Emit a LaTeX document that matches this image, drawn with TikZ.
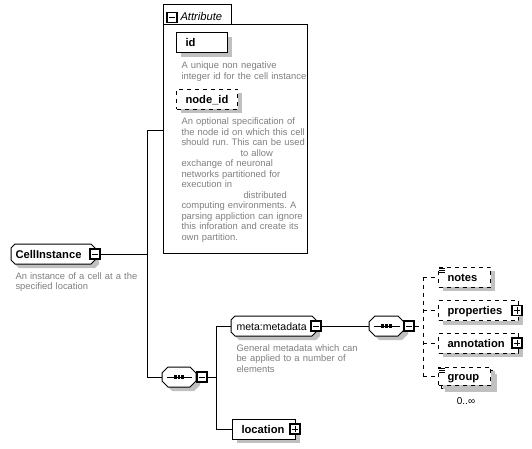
\documentclass[tikz,border=0pt]{standalone}
\usepackage{fontspec}
\setmainfont{Liberation Sans}
\usetikzlibrary{shadows,calc}
\frenchspacing
\definecolor{descgray}{RGB}{128,128,128}
\definecolor{shadowgray}{RGB}{192,192,192}
\newcommand\octdraw[6]{\path[#6] (#1+#5,#2) -- (#3-#5,#2) -- (#3,#2+#5) -- (#3,#4-#5) -- (#3-#5,#4) -- (#1+#5,#4) -- (#1,#4-#5) -- (#1,#2+#5) -- cycle;}
\newcommand\octbox[5]{\octdraw{#1}{#2}{#3}{#4}{#5}{fill=shadowgray, shift={(4,4)}}\octdraw{#1}{#2}{#3}{#4}{#5}{draw, fill=white}}
\begin{document}
\begin{tikzpicture}[x=0.75pt, y=-0.75pt, line width=0.75pt,
  ttl/.style={font=\fontsize{8.4}{10}\selectfont\bfseries},
  desc/.style={anchor=base west, inner sep=0, text width=#1, align=left, text=descgray, font=\fontsize{7.05}{7.875}\selectfont},
  elem/.style={anchor=west, inner xsep=6.75pt, inner ysep=0, minimum height=15pt, text height=6pt, text depth=0pt, align=left, ttl},
  rectel/.style={elem, draw, fill=white, drop shadow={shadow xshift=3pt, shadow yshift=-3pt, fill=shadowgray, opacity=1}},
  optel/.style={rectel, dashed},
  seqnode/.style={minimum height=15pt, inner sep=0},
  pmbox/.style={draw, fill=white, minimum size=7.5pt, inner sep=0, line width=1.1pt},
  minus/.style={pmbox, path picture={\draw[line width=0.75pt] ([xshift=1.4pt]path picture bounding box.west) -- ([xshift=-1.4pt]path picture bounding box.east);}},
  plus/.style={pmbox, path picture={\draw[line width=0.75pt] ([xshift=1.4pt]path picture bounding box.west) -- ([xshift=-1.4pt]path picture bounding box.east) ([yshift=-1.4pt]path picture bounding box.north) -- ([yshift=1.4pt]path picture bounding box.south);}},
  conn/.style={line width=0.75pt},
  optconn/.style={line width=0.75pt, dashed}
]
\fill[white] (0,0) rectangle (532,449);
\useasboundingbox (0,0) rectangle (532,449);

% ---------- Attribute container ----------
\draw (163,24) -- (163,5) -- (231,5) -- (231,24);
\node[draw, anchor=north west, minimum width=108pt, minimum height=171.75pt, inner sep=0] (attr) at (163,24) {};
\node[minus] (attrm) at (172,17.5) {};
\node[anchor=west, inner sep=0, font=\fontsize{8.4}{10}\selectfont\itshape] (attrt) at (180,16) {Attribute};

\node[rectel, text width=24.75pt] (id) at (176,43) {id};
\node[desc=105pt] (iddesc) at (181,69) {A unique non negative\\integer id for the cell instance};

\node[optel, text width=32.25pt] (nodeid) at (176,99.5) {node\_id};
\node[desc=105pt] (nodeiddesc) at (181,125) {An optional specification of\\the node id on which this cell\\should run. This can be used\\\hspace*{44.25pt}to allow\\exchange of neuronal\\networks partitioned for\\execution in\\\hspace*{46.5pt}distributed\\computing environments. A\\parsing appliction can ignore\\this inforation and create its\\own partition.};

% ---------- CellInstance ----------
\octbox{11}{244}{95}{264}{4}
\node[elem, inner xsep=3pt, text width=57pt] (cell) at (11,254) {CellInstance};
\node[minus] (cellm) at (95,254) {};
\node[desc=110pt] (celldesc) at (15,279) {An instance of a cell at a the\\specified location};

\coordinate (jmid) at (147,254);
\coordinate (jtop) at (147,131);
\coordinate (jbot) at (147,377);
\draw[conn] (cellm.east) -- (jmid);
\draw[conn] (jtop) -- (jbot);
\draw[conn] (jtop) -- (jtop -| attr.west);

% ---------- sequence 1 ----------
\octbox{162}{367}{196}{387}{6}
\node[seqnode, minimum width=25.5pt] (seq1) at (179,377) {};
\draw ([xshift=3.75pt]seq1.west) -- ([xshift=-3.75pt]seq1.east);
\foreach \dx in {-2.8pt,0pt,2.8pt}
  \fill ([xshift=\dx]seq1.center) +(-1.1pt,-1.2pt) rectangle +(1.1pt,1.2pt);
\node[minus] (seq1m) at (202,377) {};
\draw[conn] (jbot) -- (seq1.west);

\coordinate (k) at (216,377);
\coordinate (ktop) at (216,326);
\coordinate (kbot) at (216,429);
\draw[conn] (seq1m.east) -- (k);
\draw[conn] (ktop) -- (kbot);

% ---------- meta:metadata ----------
\octbox{231}{316}{316}{336}{4}
\node[elem, inner xsep=3.75pt, text width=56.25pt, font=\fontsize{7.9}{10}\selectfont] (meta) at (231,326) {meta:metadata};
\node[minus] (metam) at (316,326) {};
\node[desc=110pt] (metadesc) at (236,351) {General metadata which can\\be applied to a number of\\elements};
\draw[conn] (ktop) -- (meta.west);

% ---------- location ----------
\node[rectel, text width=33.75pt] (loc) at (232,429) {location};
\node[plus] (locp) at (295,429) {};
\draw[conn] (kbot) -- (loc.west);

% ---------- sequence 2 ----------
\octbox{369}{316}{404}{336}{6}
\node[seqnode, minimum width=26.25pt] (seq2) at (386.5,326) {};
\draw ([xshift=3.75pt]seq2.west) -- ([xshift=-3.75pt]seq2.east);
\foreach \dx in {-2.8pt,0pt,2.8pt}
  \fill ([xshift=\dx]seq2.center) +(-1.1pt,-1.2pt) rectangle +(1.1pt,1.2pt);
\node[minus] (seq2m) at (409,326) {};
\draw[conn] (metam.east) -- (seq2.west);

% ---------- children ----------
\node[optel, text width=25.5pt] (notes) at (438,277) {notes};
\node[optel, text width=46.5pt] (properties) at (438,310.5) {properties};
\node[plus] (propp) at (517,310.5) {};
\node[optel, text width=46.5pt] (annotation) at (438,343) {annotation};
\node[plus] (annp) at (517,343) {};

\draw[dashed, fill=white, drop shadow={shadow xshift=3pt, shadow yshift=-3pt, fill=shadowgray, opacity=1}] (441,370) rectangle (493,388);
\node[optel, minimum height=13.5pt, text width=25.5pt] (group) at (438,376) {group};
\node[font=\fontsize{7.5}{9}\selectfont, inner sep=0] (mult) at (466,401) {0..∞};

\foreach \n in {notes,group}
  \foreach \dy in {1.5pt,3pt,4.5pt}
    \draw[line width=0.6pt] ([xshift=1pt,yshift=-\dy]\n.north west) -- ++(4.5pt,0);

\coordinate (c) at (423,326);
\draw[optconn] (seq2m.east) -- (c);
\draw[optconn] (c |- notes.west) -- (c |- group.west);
\foreach \n in {notes,properties,annotation,group}
  \draw[optconn] (c |- \n.west) -- (\n.west);
\end{tikzpicture}
\end{document}
